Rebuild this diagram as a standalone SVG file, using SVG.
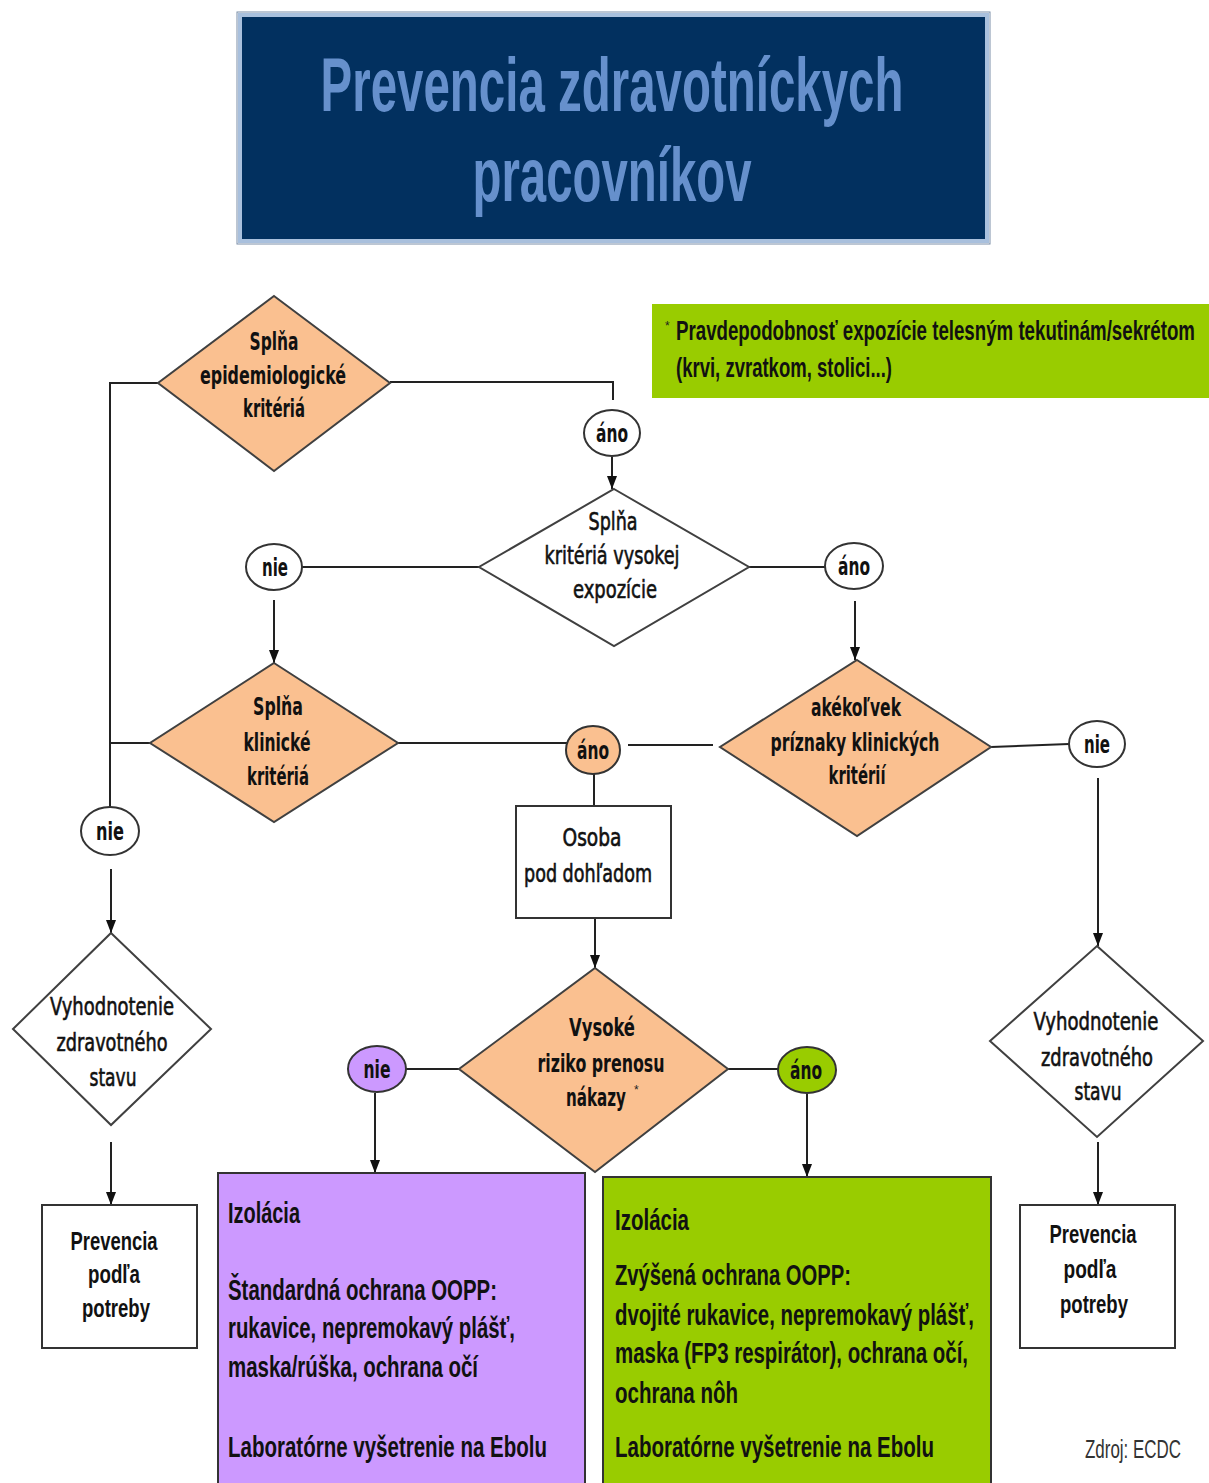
<svg xmlns="http://www.w3.org/2000/svg" width="1209" height="1483" viewBox="0 0 1209 1483">
<defs>
<marker id="arr" markerUnits="userSpaceOnUse" markerWidth="13" markerHeight="10" refX="13" refY="5" orient="auto">
<path d="M0,0 L13,5 L0,10 z" fill="#111"/>
</marker>
<style>
.bg{fill:#ffffff}
.dia{stroke:#404040;stroke-width:2}
.or{fill:#fac090}
.wh{fill:#ffffff}
.pu{fill:#cc99ff}
.gr{fill:#99cc00}
.box{stroke:#333;stroke-width:2}
.ell{stroke:#333;stroke-width:2}
.con line,.con polyline{stroke:#222;stroke-width:2;fill:none}
.b{font-family:"DejaVu Sans Condensed","DejaVu Sans",sans-serif;font-weight:bold;font-size:24px;text-anchor:middle;fill:#111}
.r{font-family:"DejaVu Sans Condensed","DejaVu Sans",sans-serif;font-weight:normal;font-size:25px;text-anchor:middle;fill:#111;stroke:#111;stroke-width:0.6}
.p{font-family:"Liberation Sans",Arial,sans-serif;font-weight:bold;font-size:26px;text-anchor:middle;fill:#111}
.t{font-family:"Liberation Sans",Arial,sans-serif;font-weight:bold;font-size:29px;fill:#111}
.n{font-family:"Liberation Sans",Arial,sans-serif;font-weight:bold;font-size:27px;fill:#111}
.ast{font-family:"Liberation Sans",Arial,sans-serif;font-weight:normal;font-size:12px;fill:#222}
.title{font-family:"Liberation Sans",Arial,sans-serif;font-weight:bold;font-size:76px;text-anchor:middle;fill:#6690cc}
</style>
</defs>
<rect class="bg" x="0" y="0" width="1209" height="1483"/>

<g id="title">
<rect x="237" y="12" width="753" height="232" fill="none" stroke="#7a8ea8" stroke-width="1"/>
<rect x="240" y="15" width="747" height="226" fill="#02305f" stroke="#a9c0dd" stroke-width="4"/>
<text class="title" x="612" y="111" textLength="583" lengthAdjust="spacingAndGlyphs">Prevencia zdravotníckych</text>
<text class="title" x="612" y="201" textLength="279" lengthAdjust="spacingAndGlyphs">pracovníkov</text>
</g>

<g id="note">
<rect x="652" y="304" width="557" height="94" class="gr"/>
<text class="ast" x="665" y="330">*</text>
<text class="n" x="676" y="340" textLength="519" lengthAdjust="spacingAndGlyphs">Pravdepodobnosť expozície telesným tekutinám/sekrétom</text>
<text class="n" x="676" y="377" textLength="216" lengthAdjust="spacingAndGlyphs">(krvi, zvratkom, stolici...)</text>
</g>

<g class="con" id="connectors">
<polyline points="158,383 110,383 110,807"/>
<line x1="150" y1="743" x2="110" y2="743"/>
<line x1="111" y1="869" x2="111" y2="933" marker-end="url(#arr)"/>
<polyline points="390,382 613,382 613,400"/>
<line x1="612" y1="457" x2="612" y2="489" marker-end="url(#arr)"/>
<line x1="479" y1="567" x2="302" y2="567"/>
<line x1="274" y1="600" x2="274" y2="663" marker-end="url(#arr)"/>
<line x1="749" y1="567" x2="826" y2="567"/>
<line x1="855" y1="601" x2="855" y2="660" marker-end="url(#arr)"/>
<line x1="398" y1="743" x2="567" y2="743"/>
<line x1="628" y1="745" x2="713" y2="745"/>
<line x1="594" y1="774" x2="594" y2="807"/>
<line x1="991" y1="747" x2="1069" y2="744"/>
<line x1="1098" y1="778" x2="1098" y2="946" marker-end="url(#arr)"/>
<line x1="1098" y1="1142" x2="1098" y2="1205" marker-end="url(#arr)"/>
<line x1="111" y1="1142" x2="111" y2="1205" marker-end="url(#arr)"/>
<line x1="595" y1="918" x2="595" y2="968" marker-end="url(#arr)"/>
<line x1="459" y1="1069" x2="406" y2="1069"/>
<line x1="375" y1="1093" x2="375" y2="1173" marker-end="url(#arr)"/>
<line x1="728" y1="1069" x2="778" y2="1069"/>
<line x1="807" y1="1094" x2="807" y2="1177" marker-end="url(#arr)"/>
</g>

<g id="d-epi">
<polygon class="dia or" points="274,296 390,383 274,471 158,383"/>
<text class="b" x="274" y="350" textLength="49" lengthAdjust="spacingAndGlyphs">Splňa</text>
<text class="b" x="273" y="384" textLength="146" lengthAdjust="spacingAndGlyphs">epidemiologické</text>
<text class="b" x="274" y="417" textLength="62" lengthAdjust="spacingAndGlyphs">kritériá</text>
</g>

<g id="e-ano1">
<ellipse class="ell wh" cx="612" cy="433" rx="28" ry="23"/>
<text class="b" x="612" y="442" textLength="32" lengthAdjust="spacingAndGlyphs">áno</text>
</g>

<g id="d-vys-exp">
<polygon class="dia wh" points="614,489 749,567 614,646 479,567"/>
<text class="r" x="613" y="530" textLength="49" lengthAdjust="spacingAndGlyphs">Splňa</text>
<text class="r" x="612" y="564" textLength="135" lengthAdjust="spacingAndGlyphs">kritériá vysokej</text>
<text class="r" x="615" y="598" textLength="84" lengthAdjust="spacingAndGlyphs">expozície</text>
</g>

<g id="e-nie1">
<ellipse class="ell wh" cx="274" cy="567" rx="28" ry="23"/>
<text class="b" x="275" y="576" textLength="26" lengthAdjust="spacingAndGlyphs">nie</text>
</g>

<g id="e-ano2">
<ellipse class="ell wh" cx="854" cy="566" rx="29" ry="23"/>
<text class="b" x="854" y="575" textLength="32" lengthAdjust="spacingAndGlyphs">áno</text>
</g>

<g id="d-klin">
<polygon class="dia or" points="274,663 398,743 274,822 150,743"/>
<text class="b" x="278" y="715" textLength="50" lengthAdjust="spacingAndGlyphs">Splňa</text>
<text class="b" x="277" y="751" textLength="67" lengthAdjust="spacingAndGlyphs">klinické</text>
<text class="b" x="278" y="785" textLength="62" lengthAdjust="spacingAndGlyphs">kritériá</text>
</g>

<g id="e-ano3">
<ellipse class="ell or" cx="593" cy="750" rx="27" ry="24"/>
<text class="b" x="593" y="759" textLength="32" lengthAdjust="spacingAndGlyphs">áno</text>
</g>

<g id="d-akek">
<polygon class="dia or" points="857,660 991,747 857,836 720,747"/>
<text class="b" x="856" y="716" textLength="90" lengthAdjust="spacingAndGlyphs">akékoľvek</text>
<text class="b" x="855" y="751" textLength="169" lengthAdjust="spacingAndGlyphs">príznaky klinických</text>
<text class="b" x="857" y="784" textLength="57" lengthAdjust="spacingAndGlyphs">kritérií</text>
</g>

<g id="e-nie2">
<ellipse class="ell wh" cx="1097" cy="744" rx="28" ry="23"/>
<text class="b" x="1097" y="753" textLength="26" lengthAdjust="spacingAndGlyphs">nie</text>
</g>

<g id="e-nie3">
<ellipse class="ell wh" cx="110" cy="831" rx="29" ry="24"/>
<text class="b" x="110" y="840" textLength="28" lengthAdjust="spacingAndGlyphs">nie</text>
</g>

<g id="b-osoba">
<rect class="box wh" x="516" y="806" width="155" height="112"/>
<text class="r" x="592" y="846" textLength="59" lengthAdjust="spacingAndGlyphs">Osoba</text>
<text class="r" x="588" y="882" textLength="128" lengthAdjust="spacingAndGlyphs">pod dohľadom</text>
</g>

<g id="d-vysoke">
<polygon class="dia or" points="595,968 728,1069 595,1172 459,1069"/>
<text class="b" x="602" y="1036" textLength="66" lengthAdjust="spacingAndGlyphs">Vysoké</text>
<text class="b" x="601" y="1072" textLength="127" lengthAdjust="spacingAndGlyphs">riziko prenosu</text>
<text class="b" x="596" y="1106" textLength="60" lengthAdjust="spacingAndGlyphs">nákazy</text>
<text class="ast" x="634" y="1094" font-size="10">*</text>
</g>

<g id="e-nie4">
<ellipse class="ell pu" cx="377" cy="1069" rx="29" ry="23"/>
<text class="b" x="377" y="1078" textLength="27" lengthAdjust="spacingAndGlyphs">nie</text>
</g>

<g id="e-ano4">
<ellipse class="ell gr" cx="807" cy="1070" rx="29" ry="23"/>
<text class="b" x="806" y="1079" textLength="32" lengthAdjust="spacingAndGlyphs">áno</text>
</g>

<g id="d-vyh-left">
<polygon class="dia wh" points="111,933 211,1029 111,1125 13,1029"/>
<text class="r" x="112" y="1015" textLength="124" lengthAdjust="spacingAndGlyphs">Vyhodnotenie</text>
<text class="r" x="112" y="1051" textLength="111" lengthAdjust="spacingAndGlyphs">zdravotného</text>
<text class="r" x="113" y="1086" textLength="47" lengthAdjust="spacingAndGlyphs">stavu</text>
</g>

<g id="d-vyh-right">
<polygon class="dia wh" points="1097,946 1203,1041 1097,1137 990,1041"/>
<text class="r" x="1096" y="1030" textLength="125" lengthAdjust="spacingAndGlyphs">Vyhodnotenie</text>
<text class="r" x="1097" y="1066" textLength="112" lengthAdjust="spacingAndGlyphs">zdravotného</text>
<text class="r" x="1098" y="1100" textLength="47" lengthAdjust="spacingAndGlyphs">stavu</text>
</g>

<g id="b-prev-left">
<rect class="box wh" x="42" y="1205" width="155" height="143"/>
<text class="p" x="114" y="1250" textLength="87" lengthAdjust="spacingAndGlyphs">Prevencia</text>
<text class="p" x="114" y="1283" textLength="52" lengthAdjust="spacingAndGlyphs">podľa</text>
<text class="p" x="116" y="1317" textLength="68" lengthAdjust="spacingAndGlyphs">potreby</text>
</g>

<g id="b-prev-right">
<rect class="box wh" x="1020" y="1205" width="155" height="143"/>
<text class="p" x="1093" y="1243" textLength="87" lengthAdjust="spacingAndGlyphs">Prevencia</text>
<text class="p" x="1090" y="1278" textLength="53" lengthAdjust="spacingAndGlyphs">podľa</text>
<text class="p" x="1094" y="1313" textLength="68" lengthAdjust="spacingAndGlyphs">potreby</text>
</g>

<g id="b-standard">
<rect class="box pu" x="218" y="1173" width="367" height="320"/>
<text class="t" x="228" y="1223" textLength="72" lengthAdjust="spacingAndGlyphs">Izolácia</text>
<text class="t" x="228" y="1300" textLength="269" lengthAdjust="spacingAndGlyphs">Štandardná ochrana OOPP:</text>
<text class="t" x="228" y="1338" textLength="287" lengthAdjust="spacingAndGlyphs">rukavice, nepremokavý plášť,</text>
<text class="t" x="228" y="1377" textLength="250" lengthAdjust="spacingAndGlyphs">maska/rúška, ochrana očí</text>
<text class="t" x="228" y="1457" textLength="319" lengthAdjust="spacingAndGlyphs">Laboratórne vyšetrenie na Ebolu</text>
</g>

<g id="b-zvysena">
<rect class="box gr" x="603" y="1177" width="388" height="316"/>
<text class="t" x="615" y="1230" textLength="74" lengthAdjust="spacingAndGlyphs">Izolácia</text>
<text class="t" x="615" y="1285" textLength="236" lengthAdjust="spacingAndGlyphs">Zvýšená ochrana OOPP:</text>
<text class="t" x="615" y="1325" textLength="359" lengthAdjust="spacingAndGlyphs">dvojité rukavice, nepremokavý plášť,</text>
<text class="t" x="615" y="1363" textLength="353" lengthAdjust="spacingAndGlyphs">maska (FP3 respirátor), ochrana očí,</text>
<text class="t" x="615" y="1403" textLength="123" lengthAdjust="spacingAndGlyphs">ochrana nôh</text>
<text class="t" x="615" y="1457" textLength="319" lengthAdjust="spacingAndGlyphs">Laboratórne vyšetrenie na Ebolu</text>
</g>

<g id="source">
<text x="1085" y="1458" font-family="Liberation Sans, Arial, sans-serif" font-size="25" fill="#333" textLength="96" lengthAdjust="spacingAndGlyphs">Zdroj: ECDC</text>
</g>
</svg>
